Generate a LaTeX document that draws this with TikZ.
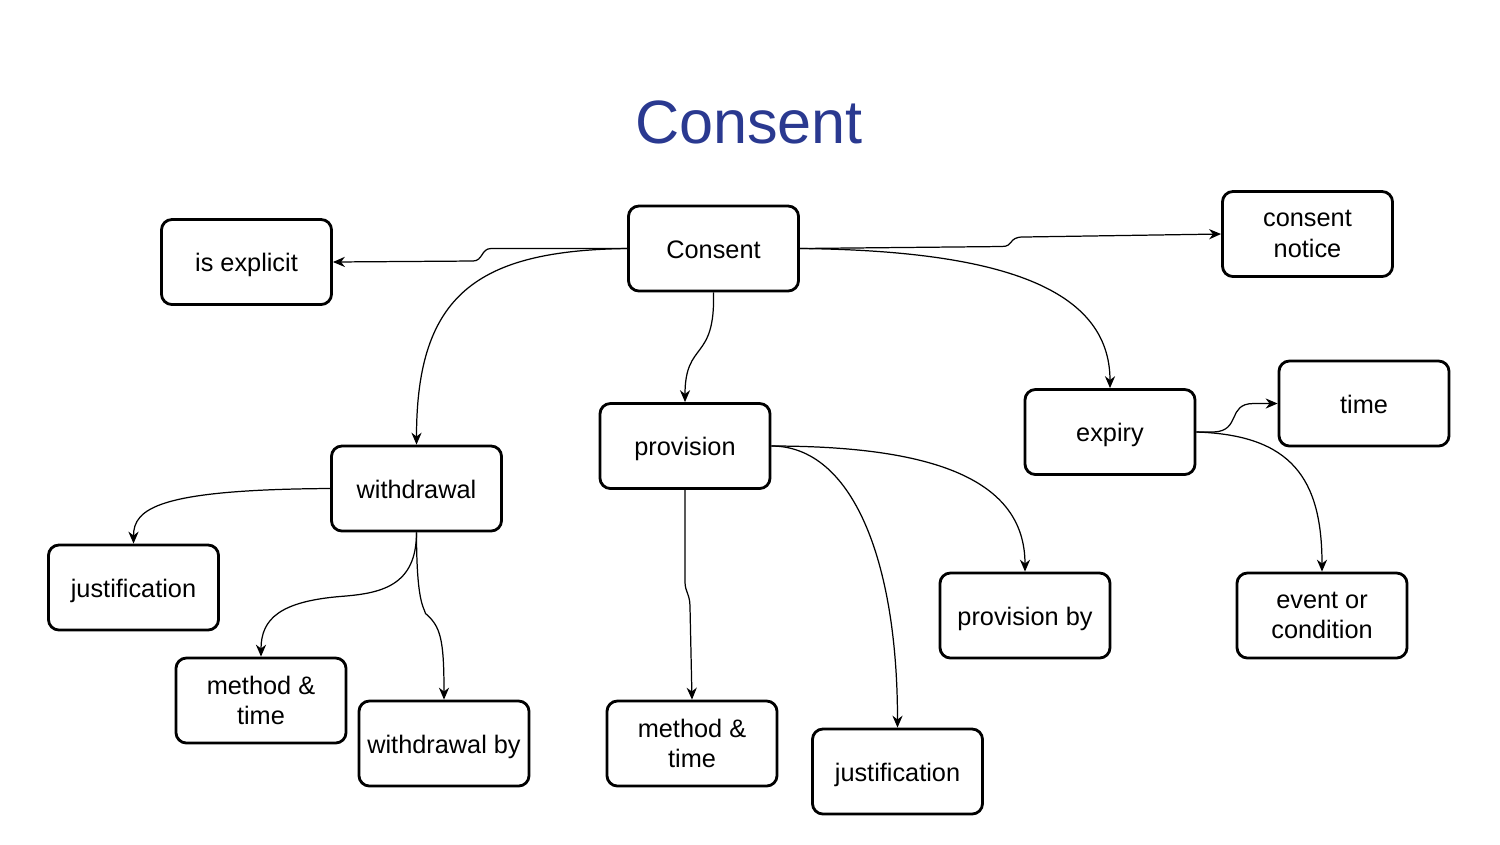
\documentclass[tikz,border=0pt]{standalone}
\usepackage{fontspec}
\setmainfont{Liberation Sans}
\usetikzlibrary{arrows.meta,calc}
\definecolor{titleblue}{RGB}{42,57,144}
\begin{document}
\begin{tikzpicture}[x=0.01cm,y=-0.01cm,
  box/.style={draw, line width=0.8pt, rounded corners=3pt, minimum width=1.7cm, minimum height=0.85cm,
    align=center, inner sep=1pt, font=\fontsize{7.2}{8.6}\selectfont},
  one/.style={box, text height=7pt, text depth=1.5pt},
  arr/.style={-{Stealth[length=3.4pt,width=2.9pt]}, line width=0.35pt}]
\useasboundingbox (0,0) rectangle (1500,844);
\node[anchor=base, text=titleblue, font=\fontsize{17.4}{20}\selectfont] (title) at (749,143) {Consent};
% nodes
\node[one] (c) at (713.5,248.5) {Consent};
\node[one] (ie) at (246.5,262) {is explicit};
\node[box] (cn) at (1307.5,234) {consent\\notice};
\node[one] (wd) at (416.5,488.5) {withdrawal};
\node[one] (pv) at (685,446) {provision};
\node[one] (ex) at (1110,432) {expiry};
\node[one] (tm) at (1364,403.5) {time};
\node[one] (j1) at (133.5,587.5) {justification};
\node[box] (m1) at (261,700.5) {method \&\\time};
\node[one] (wb) at (444,743.5) {withdrawal by};
\node[box] (m2) at (692,743.5) {method \&\\time};
\node[one] (j2) at (897.5,771.5) {justification};
\node[one] (pb) at (1025,615.5) {provision by};
\node[box] (ec) at (1322,615.5) {event or\\condition};
% connectors
\draw[arr] (c.west) -- ($(c.west)+(-136,0)$) .. controls +(-10,0) and +(10,0) .. ($(ie.east)+(140,-1)$) -- (ie.east);
\draw[arr] (c.west) .. controls +(-150,2) and +(0,-150) .. (wd.north);
\draw[arr] (c.east) -- ($(c.east)+(202,-2)$) .. controls +(12,0) and +(-15,0) .. ($(cn.west)+(-198,3)$) -- (cn.west);
\draw[arr] (c.east) .. controls +(200,2) and +(0,-100) .. (ex.north);
\draw[arr] (c.south) .. controls +(2,70) and +(0,-62) .. (pv.north);
\draw[arr] (wd.west) .. controls +(-172,1) and +(0,-35) .. (j1.north);
\draw[arr] (wd.south) .. controls +(0,54) and +(40,-3) .. ($(wd.south)+(-76,64)$) .. controls +(-60,5) and +(0,-38) .. (m1.north);
\draw[arr] (wd.south) .. controls +(0,69) and +(-2,-7) .. ($(wd.south)+(9,81)$) .. controls +(15,13) and +(0,-61) .. (wb.north);
\draw[arr] (pv.south) -- ($(pv.south)+(0,92)$) .. controls +(0,10) and +(0,-13) .. ($(pv.south)+(5,117)$) -- (m2.north);
\draw[arr] (pv.east) .. controls +(80,0) and +(0,-169) .. (j2.north);
\draw[arr] (pv.east) .. controls +(160,0) and +(0,-93) .. (pb.north);
\draw[arr] (ex.east) -- ($(ex.east)+(17,0)$) .. controls +(28,-1) and +(-27,0) .. ($(tm.west)+(-24,0)$) -- (tm.west);
\draw[arr] (ex.east) .. controls +(95,3) and +(0,-93) .. (ec.north);
\end{tikzpicture}
\end{document}
